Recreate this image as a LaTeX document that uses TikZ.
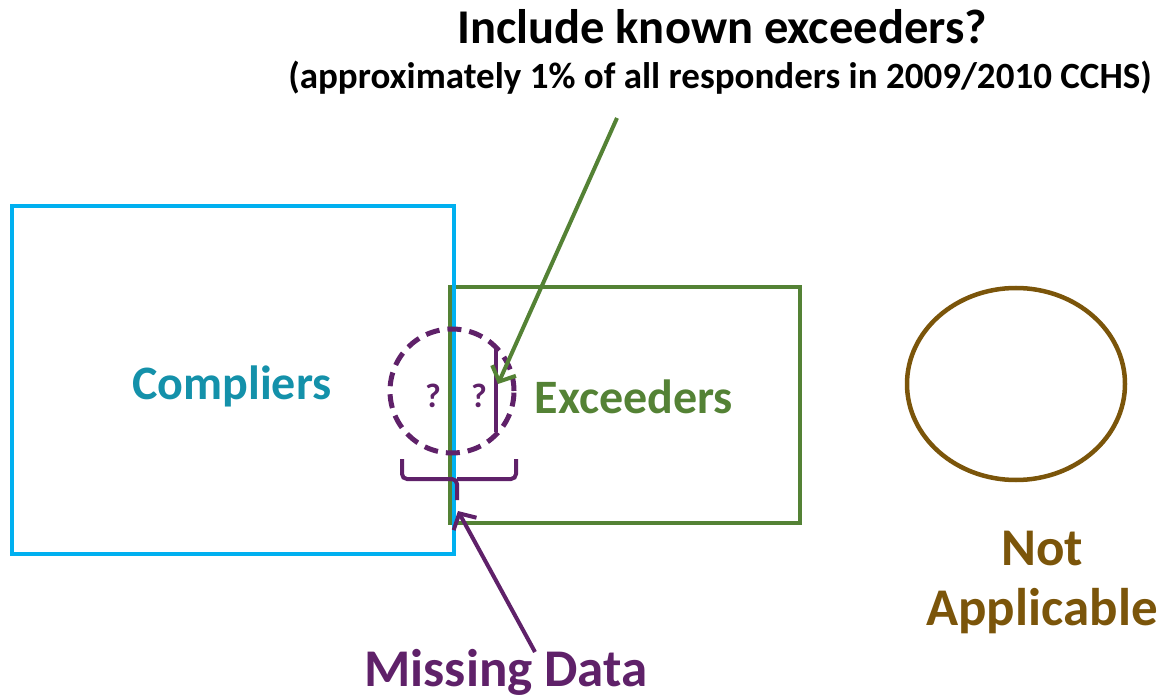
\documentclass[tikz,border=0pt]{standalone}
\usepackage{fontspec}
\setmainfont{Carlito}
\usetikzlibrary{arrows.meta,shapes.geometric}
\definecolor{cyanbox}{RGB}{0,176,240}
\definecolor{tealtxt}{RGB}{20,145,170}
\definecolor{grn}{RGB}{84,130,53}
\definecolor{purp}{RGB}{95,33,105}
\definecolor{brn}{RGB}{123,85,10}
\tikzset{
  lbl/.style={font=\bfseries\fontsize{48}{56}\selectfont, inner sep=0pt},
  qm/.style={font=\bfseries\fontsize{34}{38}\selectfont, text=purp, inner sep=0pt},
  boxline/.style={line width=4.5pt},
  barb/.style={-{Straight Barb[length=12pt,width=26pt,line width=4pt]}},
}
\begin{document}
\begin{tikzpicture}[x=1pt,y=-1pt]
\useasboundingbox (0,0) rectangle (1162,700);
% Exceeders box
\node[draw=grn, boxline, minimum width=350pt, minimum height=236pt, inner sep=0pt] (exbox) at (625,405) {};
% Compliers box
\node[draw=cyanbox, boxline, minimum width=442pt, minimum height=348pt, inner sep=0pt] (cobox) at (233,380) {};
% Not applicable ellipse
\node[draw=brn, boxline, ellipse, minimum width=218pt, minimum height=192pt, inner sep=0pt] (naell) at (1016,384) {};
% dashed circle
\node[draw=purp, line width=5pt, dash pattern=on 14pt off 8pt, circle, minimum size=124pt, inner sep=0pt] (mcirc) at (452,391) {};
\node[qm] (q1) at (433,396) {?};
\node[qm] (q2) at (479,396) {?};
% vertical line inside circle
\coordinate (vtop) at (496,349);
\coordinate (vbot) at (496,432);
\draw[purp, line width=3.5pt] (vtop) -- (vbot);
% brace
\coordinate (brL) at (402,459);
\coordinate (brR) at (516,459);
\coordinate (brTip) at (457,500);
\draw[purp, line width=4pt, rounded corners=5pt] (brL) -- (402,479) -- (457,479) -- (brTip);
\draw[purp, line width=4pt, rounded corners=5pt] (brR) -- (516,479) -- (457,479);
% labels
\node[lbl, text=tealtxt] (comp) at (232,386) {Compliers};
\node[lbl, text=grn] (exc) at (634,397) {Exceeders};
\node[lbl, text=brn, font=\bfseries\fontsize{53}{60}\selectfont, align=center] (na) at (1042,582) {Not\\Applicable};
\node[lbl, text=purp, font=\bfseries\fontsize{53}{60}\selectfont] (miss) at (506,672) {Missing Data};
\node[inner sep=0pt, font=\bfseries\fontsize{48.5}{56}\selectfont] (title) at (722,27) {Include known exceeders?};
\node[inner sep=0pt, font=\bfseries\fontsize{37}{44}\selectfont] (sub) at (720,78) {(approximately 1\% of all responders in 2009/2010 CCHS)};
% arrows
\coordinate (gtail) at (617,118);
\coordinate (gtip) at (498,384);
\draw[grn, line width=4pt, barb] (gtail) -- (gtip);
\coordinate (ptail) at (535,652);
\coordinate (ptip) at (458,511);
\draw[purp, line width=4pt, barb] (ptail) -- (ptip);
\end{tikzpicture}
\end{document}
